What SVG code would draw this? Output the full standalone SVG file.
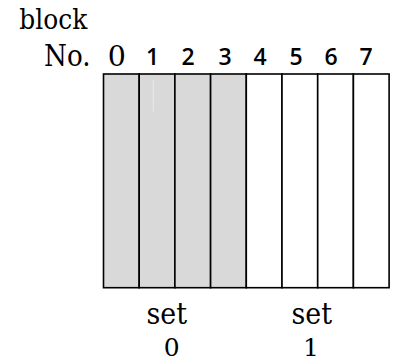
<svg xmlns="http://www.w3.org/2000/svg" width="396" height="361" viewBox="0 0 396 361">
  <style>
    .tm { font-family: 'DejaVu Serif', serif; fill: #000; }
    .num { font-family: 'Open Sans', 'DejaVu Sans', sans-serif; font-weight: 600; font-size: 23px; fill: #000; text-anchor: middle; }
    .cell { stroke: #000; stroke-width: 1.6; }
    .used { fill: #d9d9d9; }
    .free { fill: #fff; }
  </style>

  <!-- header labels -->
  <g id="header">
    <text class="tm" x="19.3" y="28.5" font-size="27" textLength="68" lengthAdjust="spacingAndGlyphs">block</text>
    <text class="tm" x="44" y="65.5" font-size="29" textLength="46.5" lengthAdjust="spacingAndGlyphs">No.</text>
    <text class="tm" x="116.7" y="65.5" font-size="28.5" text-anchor="middle">0</text>
    <text class="num" x="152.5" y="65">1</text>
    <text class="num" x="188" y="65">2</text>
    <text class="num" x="225" y="65">3</text>
    <text class="num" x="260" y="65">4</text>
    <text class="num" x="296" y="65">5</text>
    <text class="num" x="331" y="65">6</text>
    <text class="num" x="366" y="65">7</text>
  </g>

  <!-- blocks 0-3 (set 0, shaded) -->
  <g id="block0"><rect class="cell used" x="103.5" y="74" width="35.7" height="213.7"/></g>
  <g id="block1">
    <rect class="cell used" x="139.2" y="74" width="35.7" height="213.7"/>
    <line x1="153.3" y1="80" x2="153.3" y2="111.5" stroke="#efefef" stroke-width="0.8"/>
  </g>
  <g id="block2"><rect class="cell used" x="174.9" y="74" width="35.7" height="213.7"/></g>
  <g id="block3"><rect class="cell used" x="210.6" y="74" width="35.7" height="213.7"/></g>

  <!-- blocks 4-7 (set 1) -->
  <g id="block4"><rect class="cell free" x="246.3" y="74" width="35.7" height="213.7"/></g>
  <g id="block5"><rect class="cell free" x="282" y="74" width="35.7" height="213.7"/></g>
  <g id="block6"><rect class="cell free" x="317.7" y="74" width="35.7" height="213.7"/></g>
  <g id="block7"><rect class="cell free" x="353.4" y="74" width="35.7" height="213.7"/></g>

  <!-- set labels -->
  <g id="set0">
    <text class="tm" x="146.5" y="323.5" font-size="29" textLength="40.5" lengthAdjust="spacingAndGlyphs">set</text>
    <text class="tm" x="171.7" y="356" font-size="25" text-anchor="middle">0</text>
  </g>
  <g id="set1">
    <text class="tm" x="291.5" y="323.5" font-size="29" textLength="40.5" lengthAdjust="spacingAndGlyphs">set</text>
    <text class="tm" x="311" y="356" font-size="25" text-anchor="middle">1</text>
  </g>
</svg>
